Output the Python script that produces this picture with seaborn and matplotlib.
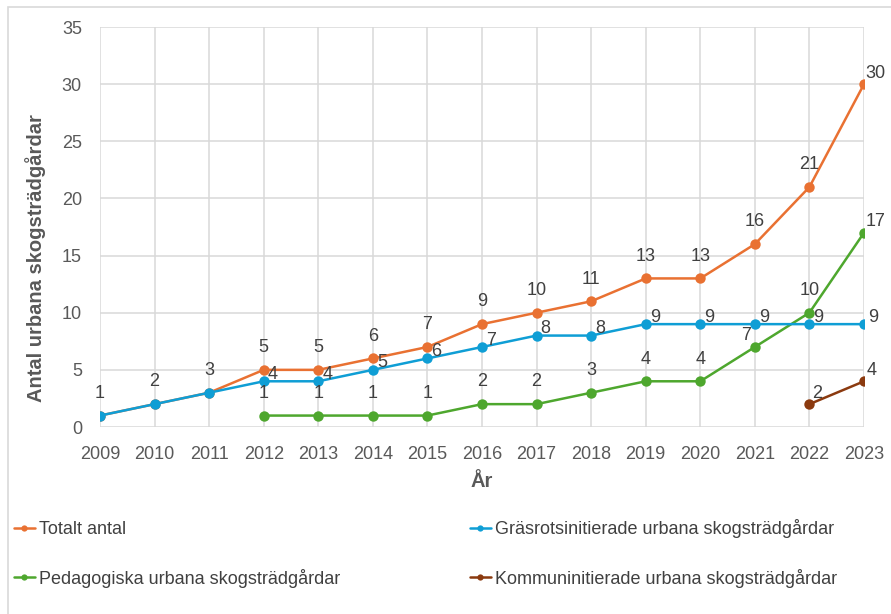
import numpy as np
import pandas as pd
import seaborn as sns
import matplotlib.pyplot as plt
from matplotlib.patches import Rectangle

years = list(range(2009, 2024))
totalt = [1, 2, 3, 5, 5, 6, 7, 9, 10, 11, 13, 13, 16, 21, 30]
grasrot = [1, 2, 3, 4, 4, 5, 6, 7, 8, 8, 9, 9, 9, 9, 9]
ped_years = list(range(2012, 2024))
pedagogiska = [1, 1, 1, 1, 2, 2, 3, 4, 4, 7, 10, 17]
kom_years = [2022, 2023]
kommun = [2, 4]

names = ['Totalt antal', 'Gräsrotsinitierade urbana skogsträdgårdar',
         'Pedagogiska urbana skogsträdgårdar', 'Kommuninitierade urbana skogsträdgårdar']
colors = ['#E97132', '#0F9ED5', '#4EA72E', '#8B3A0F']

df = pd.concat([
    pd.DataFrame({'År': years, 'Antal': totalt, 'Serie': names[0]}),
    pd.DataFrame({'År': years, 'Antal': grasrot, 'Serie': names[1]}),
    pd.DataFrame({'År': ped_years, 'Antal': pedagogiska, 'Serie': names[2]}),
    pd.DataFrame({'År': kom_years, 'Antal': kommun, 'Serie': names[3]}),
])

sns.set_style('white')
plt.rcParams['font.family'] = ['Liberation Sans', 'DejaVu Sans']

fig = plt.figure(figsize=(8.91, 6.14), dpi=100)
ax = fig.add_axes([100/891, 1-427/614, 764/891, 400/614])

# draw order: blue on top like in Excel
order = [0, 2, 3, 1]
lines = {}
for i in order:
    sub = df[df['Serie'] == names[i]]
    sns.lineplot(data=sub, x='År', y='Antal', ax=ax, color=colors[i], marker='o',
                 markersize=7.5, markeredgewidth=0, linewidth=1.8, label=names[i],
                 legend=False)
    lines[i] = ax.lines[-1]

FS = 13
TC = '#404040'

def lab(x, y, dx, dy, ha, va):
    ax.annotate(str(y), (x, y), xytext=(dx, dy), textcoords='offset points',
                fontsize=FS, color=TC, ha=ha, va=va)

for x, y in zip(years, totalt):
    if x == 2023:
        lab(x, y, 1, 8, 'left', 'center')
    else:
        lab(x, y, 0, 16, 'center', 'center')
for x, y in zip(years[3:], grasrot[3:]):
    lab(x, y, 3, 5, 'left', 'center')
for x, y in zip(ped_years, pedagogiska):
    if x == 2021:
        lab(x, y, -3, 8, 'right', 'center')
    elif x == 2023:
        lab(x, y, 1, 8, 'left', 'center')
    else:
        lab(x, y, 0, 16, 'center', 'center')
for x, y in zip(kom_years, kommun):
    lab(x, y, 2, 8, 'left', 'center')

ax.set_xlim(2009, 2023)
ax.set_ylim(0, 35)
ax.set_xticks(years)
ax.set_yticks(range(0, 36, 5))
ax.tick_params(axis='both', labelsize=FS, labelcolor='#595959', length=0)
ax.tick_params(axis='x', pad=14)
ax.tick_params(axis='y', pad=13)
ax.grid(True, color='#D9D9D9', linewidth=1.1)
for s in ax.spines.values():
    s.set_visible(False)
ax.set_xlabel('År', fontsize=14.5, fontweight='bold', color='#595959', labelpad=6)
ax.set_ylabel('Antal urbana skogsträdgårdar', fontsize=14.5, fontweight='bold', color='#595959')
ax.yaxis.set_label_coords(-54/764, (427-258)/400)

# outer chart border
fig.add_artist(Rectangle((8/891, -0.1), 1.2, 1-7/614+0.1, transform=fig.transFigure,
                         fill=False, edgecolor='#D9D9D9', linewidth=1.2))

# legend: two columns, second column handle starting at x=470 px
leg_order = [0, 2, 1, 3]
leg_kw = dict(loc='upper left', bbox_to_anchor=(14/891, 1-519/614), ncol=2,
              frameon=False, labelspacing=1.7, handlelength=1.15, handletextpad=0.25,
              markerscale=0.6, borderaxespad=0, borderpad=0, prop={'size': 13},
              labelcolor='#404040')
leg = fig.legend([lines[i] for i in leg_order], [names[i] for i in leg_order],
                 columnspacing=5.0, **leg_kw)
fig.canvas.draw()
r = fig.canvas.get_renderer()
col1_end = max(t.get_window_extent(r).x1 for t in leg.get_texts()[:2])
fontpx = 13 * fig.dpi / 72
spacing = (470 - col1_end) / fontpx
leg.remove()
fig.legend([lines[i] for i in leg_order], [names[i] for i in leg_order],
           columnspacing=spacing, **leg_kw)

fig.savefig('out.png', dpi=100)
